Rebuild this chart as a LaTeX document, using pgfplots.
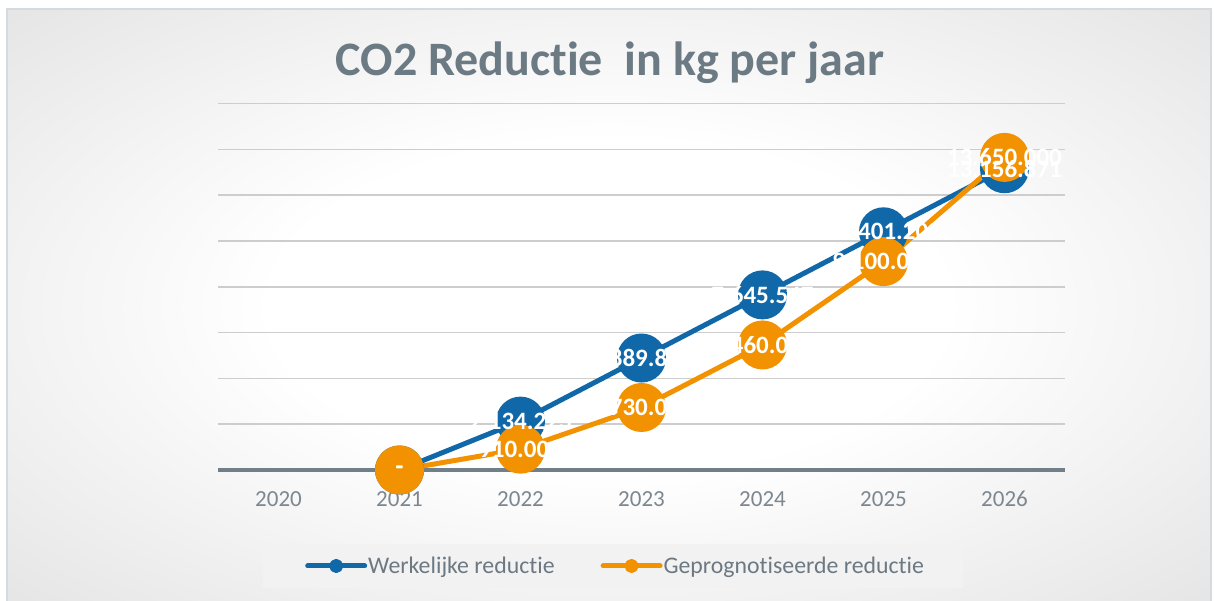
\documentclass[border=0pt]{standalone}
\usepackage{fontspec}
\setmainfont{Carlito}[Ligatures=NoCommon]
\usepackage{pgfplots}
\pgfplotsset{compat=1.18}
\definecolor{blueS}{RGB}{16,104,168}
\definecolor{orangeS}{RGB}{242,146,0}
\definecolor{titlegray}{RGB}{108,122,132}
\definecolor{tickgray}{RGB}{125,135,143}
\definecolor{legendgray}{RGB}{108,121,131}
\definecolor{gridgray}{RGB}{205,205,205}
\definecolor{basegray}{RGB}{113,127,136}
\definecolor{framegray}{RGB}{212,218,222}
\definecolor{legendbg}{RGB}{242,242,242}
\pgfdeclareradialshading{bgshade}{\pgfpoint{0bp}{0bp}}{color(0bp)=(white); color(14bp)=(white); color(50bp)=(black!17); color(72bp)=(black!27)}
\begin{document}
\begin{tikzpicture}
\useasboundingbox (0pt,0pt) rectangle (1214pt,601pt);
\fill[white] (0pt,0pt) rectangle (1214pt,601pt);
\shade[shading=bgshade] (7pt,-2pt) rectangle (1211pt,592pt);
\draw[framegray, line width=1.5pt] (7pt,-2pt) rectangle (1211pt,592pt);
\fill[legendbg] (263pt,13pt) rectangle (963pt,57pt);
\node[anchor=base, font=\fontsize{48}{48}\selectfont\bfseries, text=titlegray, inner sep=0pt] at (610pt,525pt) {CO2 Reductie\ \ in kg per jaar};
\begin{axis}[
  at={(218pt,131pt)}, anchor=south west,
  width=847pt, height=366.4pt, scale only axis,
  xmin=-0.5, xmax=6.5, ymin=0, ymax=16000000,
  xtick={0,1,2,3,4,5,6},
  xticklabels={2020,2021,2022,2023,2024,2025,2026},
  ytick={2000000,4000000,6000000,8000000,10000000,12000000,14000000,16000000},
  yticklabels={},
  scaled y ticks=false,
  ymajorgrids,
  grid style={gridgray, line width=1.5pt},
  axis line style={draw=none},
  major tick length=0pt,
  xticklabel style={anchor=base, yshift=-37pt, text=tickgray, font=\fontsize{23}{23}\selectfont},
  clip=false,
  legend columns=2,
  legend cell align=left,
  legend image code/.code={\draw[#1, mark=none, line width=5pt, line cap=round] (2.5pt,0pt) -- (59.5pt,0pt); \fill[#1] (31pt,0pt) circle (4.5pt);},
  legend style={draw=none, fill=none, at={(axis description cs:0.1027,-0.262)}, anchor=west, inner sep=0pt,
    nodes={inner sep=1pt, text=legendgray, font=\fontsize{23.8}{23.8}\selectfont},
    /tikz/every even column/.append style={column sep=45pt}},
]
\draw[basegray, line width=4pt] (rel axis cs:0,0) -- (rel axis cs:1,0);
\addplot[blueS, line width=5pt, line join=round, mark=*, mark size=22pt, mark options={draw=none, fill=blueS}]
  coordinates {(1,0) (2,2134223) (3,4889885) (4,7645547) (5,10401209) (6,13156871)};
\addlegendentry{Werkelijke reductie}
\addplot[orangeS, line width=5pt, line join=round, mark=*, mark size=22pt, mark options={draw=none, fill=orangeS}]
  coordinates {(1,0) (2,910000) (3,2730000) (4,5460000) (5,9100000) (6,13650000)};
\addlegendentry{Geprognotiseerde reductie}
\addplot[forget plot, draw=none, mark=none, point meta=explicit symbolic, nodes near coords,
  every node near coord/.append style={anchor=center, text=white, inner sep=0pt, font=\fontsize{25}{25}\selectfont\bfseries}]
  coordinates {(1,0) [-] (2,2134223) [2.134.223] (3,4889885) [4.889.885] (4,7645547) [7.645.547] (5,10401209) [10.401.209] (6,13156871) [13.156.871]};
\addplot[forget plot, draw=none, mark=none, point meta=explicit symbolic, nodes near coords,
  every node near coord/.append style={anchor=center, text=white, inner sep=0pt, font=\fontsize{25}{25}\selectfont\bfseries}]
  coordinates {(1,0) [-] (2,910000) [910.000] (3,2730000) [2.730.000] (4,5460000) [5.460.000] (5,9100000) [9.100.000] (6,13650000) [13.650.000]};
\end{axis}
\end{tikzpicture}
\end{document}
